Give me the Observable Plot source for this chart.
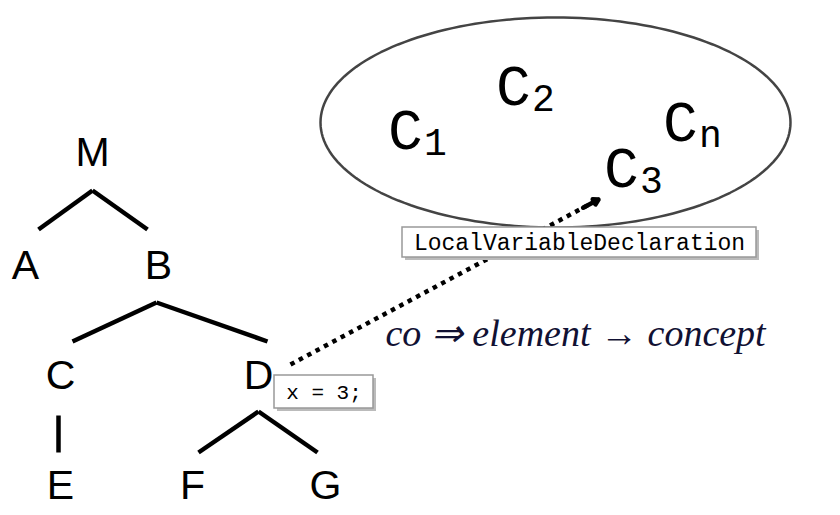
<!DOCTYPE html>
<html><head><meta charset="utf-8">
<script src="https://cdn.jsdelivr.net/npm/d3@7"></script>
<script src="https://cdn.jsdelivr.net/npm/@observablehq/plot@0.6"></script>
<style>body{margin:0;background:#fff}</style>
</head><body><div id="chart"></div>
<script>
// tree nodes and edges (page coordinates)
const nodes = [
  {label: "M", x: 92, y: 152}, {label: "A", x: 25, y: 265}, {label: "B", x: 158, y: 265},
  {label: "C", x: 60, y: 375}, {label: "D", x: 258, y: 375}, {label: "E", x: 60, y: 485},
  {label: "F", x: 192, y: 485}, {label: "G", x: 325, y: 485}
]
const edges = [
  {x1: 92, y1: 190, x2: 38, y2: 229}, {x1: 92, y1: 190, x2: 147, y2: 229},
  {x1: 156, y1: 302, x2: 72, y2: 341}, {x1: 156, y1: 302, x2: 267, y2: 341},
  {x1: 58, y1: 415, x2: 58, y2: 452},
  {x1: 258, y1: 411, x2: 198, y2: 452}, {x1: 258, y1: 411, x2: 317, y2: 452}
]
const concepts = [
  {c: "C", sub: "1", x: 405, y: 130}, {c: "C", sub: "2", x: 513, y: 86},
  {c: "C", sub: "3", x: 621, y: 168}, {c: "C", sub: "n", x: 680, y: 122}
]
const boxes = [
  {text: "LocalVariableDeclaration", x1: 402, y1: 227, x2: 756, y2: 257, size: 23},
  {text: "x = 3;", x1: 274, y1: 375, x2: 373, y2: 408, size: 21}
]
const pointer = {x1: 290, y1: 364, x2: 598, y2: 199}
const ellipse = {cx: 555, cy: 122, rx: 235, ry: 105}
const ring = d3.range(0, 361, 2).map(a => ({
  x: ellipse.cx + ellipse.rx * Math.cos(a * Math.PI / 180),
  y: ellipse.cy + ellipse.ry * Math.sin(a * Math.PI / 180)
}))
const t = 0.95
const head = {x1: pointer.x1 + t * (pointer.x2 - pointer.x1), y1: pointer.y1 + t * (pointer.y2 - pointer.y1), x2: pointer.x2, y2: pointer.y2}

const chart = Plot.plot({
  width: 840, height: 515, margin: 0,
  x: {domain: [0, 840], axis: null},
  y: {domain: [515, 0], axis: null},
  marks: [
    Plot.line(ring, {x: "x", y: "y", stroke: "#444", strokeWidth: 2.5}),
    Plot.link(edges, {x1: "x1", y1: "y1", x2: "x2", y2: "y2", stroke: "#000", strokeWidth: 4.5}),
    Plot.text(nodes, {x: "x", y: "y", text: "label", fontSize: 41, fontFamily: "Liberation Sans, Arial", fill: "#000"}),
    Plot.text(concepts, {x: "x", y: "y", text: "c", fontSize: 58, fontFamily: "Liberation Mono, monospace", fill: "#000"}),
    Plot.text(concepts, {x: d => d.x + 30, y: d => d.y + 12, text: "sub", fontSize: 38, fontFamily: "Liberation Mono, monospace", fill: "#000"}),
    Plot.text(["co ⇒ element → concept"], {x: 385, y: 333, textAnchor: "start", fontSize: 38, fontStyle: "italic", fontFamily: "Liberation Serif, serif", fill: "#111133"}),
    Plot.link([pointer], {x1: "x1", y1: "y1", x2: "x2", y2: "y2", stroke: "#000", strokeWidth: 4.5, strokeDasharray: "4.5,5"}),
    Plot.arrow([head], {x1: "x1", y1: "y1", x2: "x2", y2: "y2", stroke: "#000", strokeWidth: 4.5, headLength: 18, bend: 0}),
    Plot.rect(boxes, {x1: d => d.x1 + 3, y1: d => d.y1 + 3, x2: d => d.x2 + 3, y2: d => d.y2 + 3, fill: "#bbb"}),
    Plot.rect(boxes, {x1: "x1", y1: "y1", x2: "x2", y2: "y2", fill: "#fff", stroke: "#999", strokeWidth: 1.5}),
    Plot.text(boxes, {x: d => (d.x1 + d.x2) / 2, y: d => (d.y1 + d.y2) / 2, text: "text", fontSize: d => d.size, fontFamily: "Liberation Mono, monospace", fill: "#000"})
  ]
})
document.getElementById("chart").append(chart)
</script></body></html>
